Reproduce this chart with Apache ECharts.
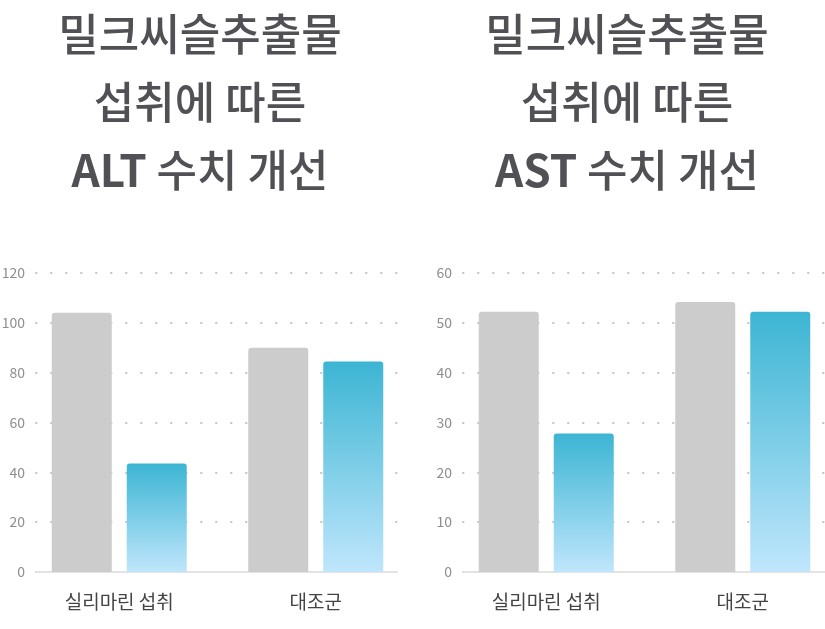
<!DOCTYPE html>
<html>
<head>
<meta charset="utf-8">
<script src="https://cdn.jsdelivr.net/npm/echarts@6/dist/echarts.min.js"></script>
<style>
  html, body { margin: 0; padding: 0; background: #fff; }
  #chart { width: 825px; height: 629px; }
</style>
</head>
<body>
<div id="chart"></div>
<script>
// Data
const categories = ['실리마린 섭취', '대조군'];
const altTicks = { min: 0, max: 120, interval: 20 };
const astTicks = { min: 0, max: 60, interval: 10 };
const altBefore = [104, 90];
const altAfter = [43.5, 84.5];
const astBefore = [52.2, 54.2];
const astAfter = [27.8, 52.2];

const FONT = '"Noto Sans CJK KR", "Noto Sans", sans-serif';
const PLOT_TOP = 273;
const PLOT_H = 299;

const grayColor = '#cccccc';
const blueGradient = new echarts.graphic.LinearGradient(0, 0, 0, 1, [
    { offset: 0, color: '#3cb5d3' },
    { offset: 1, color: '#bfe6fc' }
]);

// visible frame (gridlines, y labels, base line) + a wider grid that holds the bars
function frameAxes(left, width) {
    return { left: left, width: width, top: PLOT_TOP, height: PLOT_H, outerBoundsMode: 'none' };
}

const chart = echarts.init(document.getElementById('chart'), null, { renderer: 'canvas' });

function titleFor(x, code) {
    return {
        text: '밀크씨슬추출물\n섭취에 따른\n{b|' + code + '} 수치 개선',
        left: x,
        top: 0,
        padding: 0,
        textAlign: 'center',
        textStyle: {
            fontFamily: FONT,
            fontSize: 44,
            fontWeight: 500,
            color: '#505055',
            lineHeight: 68,
            rich: {
                b: { fontFamily: FONT, fontSize: 44, fontWeight: 'bold', color: '#505055', lineHeight: 68 }
            }
        }
    };
}

function visibleX(gridIndex) {
    return {
        type: 'category', gridIndex: gridIndex, data: categories,
        axisLine: { show: true, lineStyle: { color: '#e3e3e3', width: 2 } },
        axisTick: { show: false },
        axisLabel: { show: false }
    };
}

function barX(gridIndex) {
    return {
        type: 'category', gridIndex: gridIndex, data: categories,
        axisLine: { show: false },
        axisTick: { show: false },
        axisLabel: { margin: 20, fontFamily: FONT, fontSize: 19, color: '#444' }
    };
}

function visibleY(gridIndex, ticks) {
    return {
        type: 'value', gridIndex: gridIndex,
        min: ticks.min, max: ticks.max, interval: ticks.interval,
        axisLine: { show: false },
        axisTick: { show: false },
        axisLabel: { margin: 11, fontFamily: FONT, fontSize: 14, color: '#8e8e8e' },
        splitLine: {
            show: true,
            lineStyle: { color: '#c4c4c4', width: 2, type: [0.5, 14.5], cap: 'round', dashOffset: 0 }
        }
    };
}

function barY(gridIndex, ticks) {
    return {
        type: 'value', gridIndex: gridIndex,
        min: ticks.min, max: ticks.max, interval: ticks.interval,
        show: false,
        splitLine: { show: false }
    };
}

function barSeries(axisIndex, values, color) {
    return {
        type: 'bar',
        xAxisIndex: axisIndex, yAxisIndex: axisIndex,
        data: values,
        barWidth: 60,
        barGap: '25%',
        itemStyle: { color: color, borderRadius: [3, 3, 0, 0] },
        silent: true
    };
}

const option = {
    backgroundColor: '#fff',
    animation: false,
    title: [titleFor(200, 'ALT'), titleFor(627, 'AST')],
    grid: [
        frameAxes(36, 361),
        frameAxes(21, 393),
        frameAxes(463, 362),
        frameAxes(448, 393)
    ],
    xAxis: [visibleX(0), barX(1), visibleX(2), barX(3)],
    yAxis: [visibleY(0, altTicks), barY(1, altTicks), visibleY(2, astTicks), barY(3, astTicks)],
    series: [
        barSeries(1, altBefore, grayColor),
        barSeries(1, altAfter, blueGradient),
        barSeries(3, astBefore, grayColor),
        barSeries(3, astAfter, blueGradient)
    ]
};

chart.setOption(option);
window.addEventListener('resize', () => chart.resize());
</script>
</body>
</html>
